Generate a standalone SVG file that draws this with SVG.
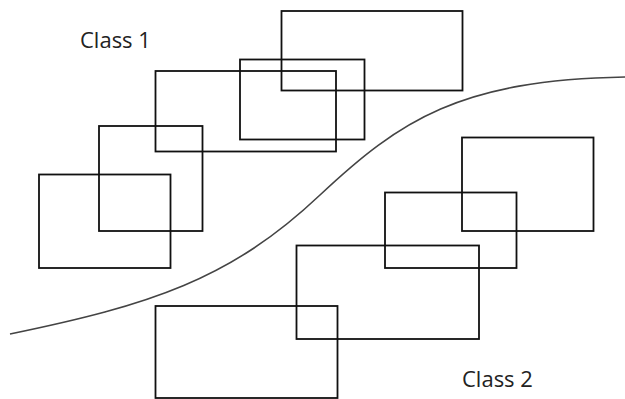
<svg xmlns="http://www.w3.org/2000/svg" width="625" height="399" viewBox="0 0 625 399">
  <style>
    .box { fill: none; stroke: #111; stroke-width: 1.8; }
    .boundary { fill: none; stroke: #444; stroke-width: 1.6; }
    .label { font-family: "Open Sans", "Liberation Sans", sans-serif; font-size: 22px; fill: #222; }
  </style>
  <rect width="625" height="399" fill="#fff"/>

  <!-- decision boundary -->
  <g id="connectors">
    <path class="boundary" d="M10,334 C150,305 230,280 320,195 C400,120 460,80 625,77"/>
  </g>

  <!-- class 1 samples -->
  <g id="c1-a"><rect class="box" x="281.5" y="11" width="181" height="79.5"/></g>
  <g id="c1-b"><rect class="box" x="240" y="59.5" width="124.5" height="80"/></g>
  <g id="c1-c"><rect class="box" x="155.5" y="71" width="180.5" height="80.5"/></g>
  <g id="c1-d"><rect class="box" x="99" y="126" width="103.5" height="105"/></g>
  <g id="c1-e"><rect class="box" x="39" y="174.5" width="131.5" height="93.5"/></g>

  <!-- class 2 samples -->
  <g id="c2-a"><rect class="box" x="462" y="137.5" width="131.5" height="93.5"/></g>
  <g id="c2-b"><rect class="box" x="385" y="192.5" width="131.5" height="75.5"/></g>
  <g id="c2-c"><rect class="box" x="296.5" y="245.5" width="182.5" height="93.5"/></g>
  <g id="c2-d"><rect class="box" x="155.5" y="306" width="182" height="92"/></g>

  <g id="label-class1"><text class="label" x="80" y="48">Class 1</text></g>
  <g id="label-class2"><text class="label" x="462" y="387">Class 2</text></g>
</svg>
